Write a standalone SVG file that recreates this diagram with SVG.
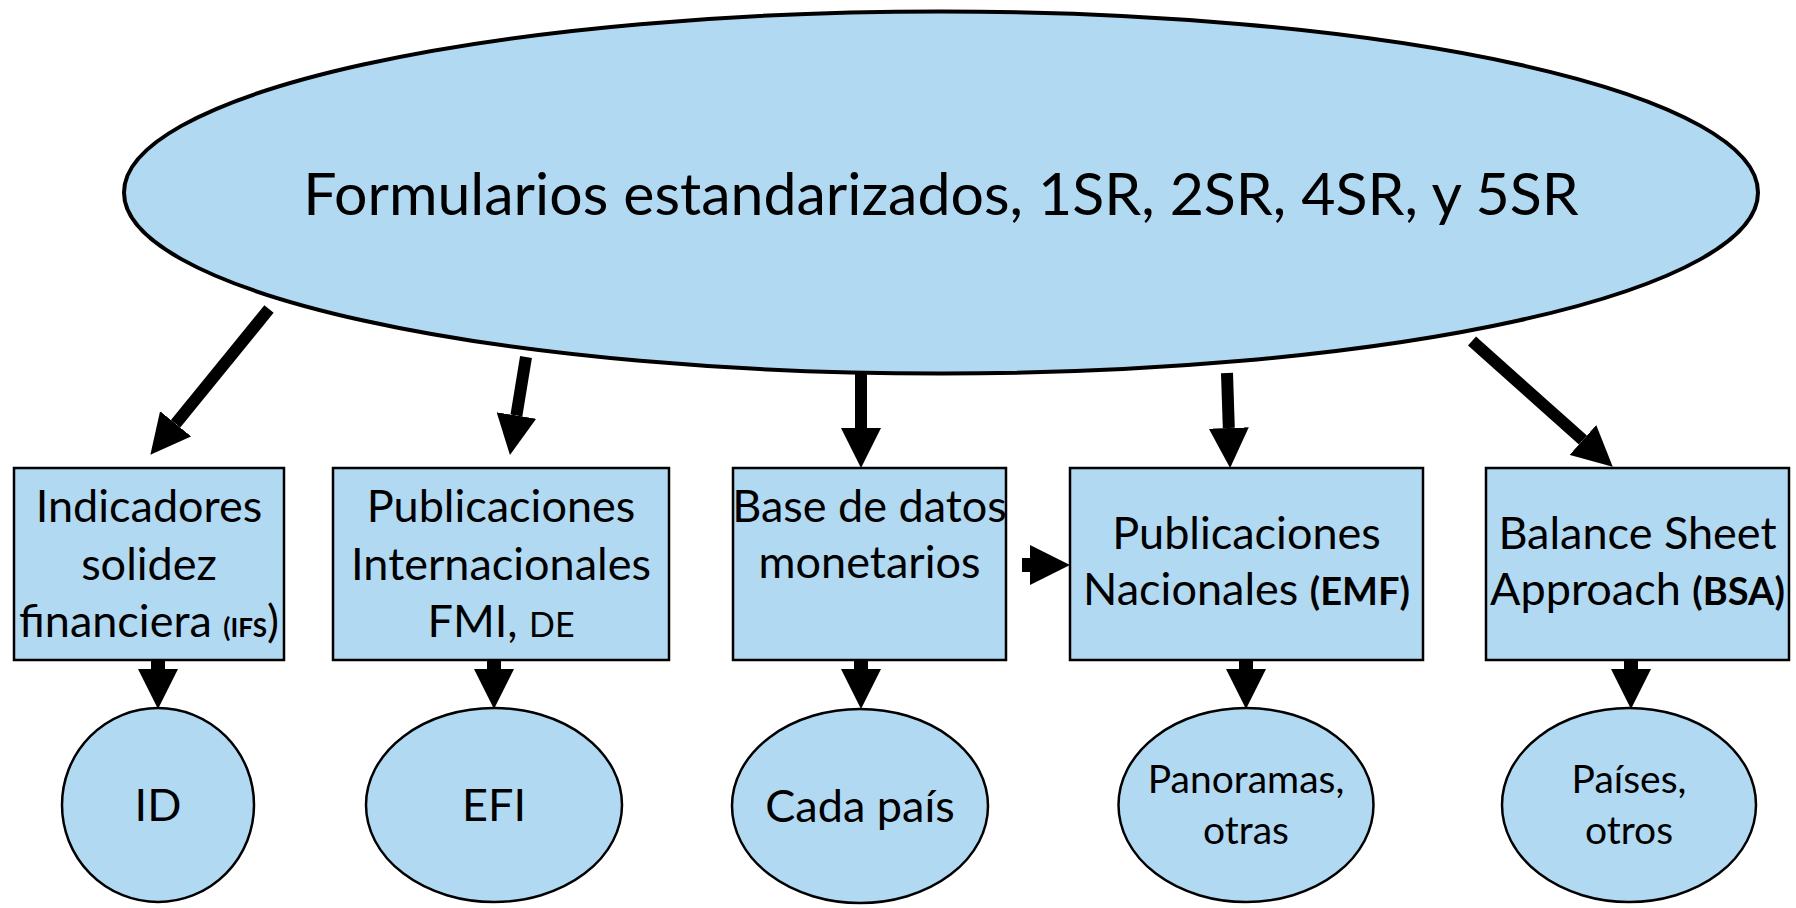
<svg xmlns="http://www.w3.org/2000/svg" width="1796" height="908" viewBox="0 0 1796 908">
<defs>
<style>
.shape{fill:#b2d9f2;stroke:#000;stroke-width:2.5}
.big{fill:#b2d9f2;stroke:#000;stroke-width:4}
text{font-family:Lato,"Open Sans","Liberation Sans",sans-serif;fill:#000;text-anchor:middle}
.t{font-size:45px}
.s{font-size:39px}
.b{font-weight:bold}
.conn{stroke:#000;stroke-width:12;fill:none}
.stub{stroke:#000;stroke-width:14;fill:none}
</style>
<marker id="ah" markerUnits="userSpaceOnUse" markerWidth="40" markerHeight="40" viewBox="0 0 40 40" refX="0" refY="20" orient="auto">
<path d="M0,0 L40,20 L0,40 z" fill="#000"/>
</marker>
</defs>
<rect width="1796" height="908" fill="#fff"/>

<g id="connectors">
<line class="conn" x1="269" y1="309" x2="175.6" y2="423.8" marker-end="url(#ah)"/>
<line class="conn" x1="526" y1="357" x2="516.4" y2="415.5" marker-end="url(#ah)"/>
<line class="conn" x1="861" y1="373" x2="861" y2="428" marker-end="url(#ah)"/>
<line class="conn" x1="1227" y1="373" x2="1228.8" y2="428" marker-end="url(#ah)"/>
<line class="conn" x1="1472" y1="341" x2="1582.9" y2="440" marker-end="url(#ah)"/>
<line class="stub" x1="1022" y1="565" x2="1030" y2="565" marker-end="url(#ah)"/>
<line class="stub" x1="158" y1="660" x2="158" y2="669" marker-end="url(#ah)"/>
<line class="stub" x1="494" y1="660" x2="494" y2="669" marker-end="url(#ah)"/>
<line class="stub" x1="861" y1="660" x2="861" y2="669" marker-end="url(#ah)"/>
<line class="stub" x1="1246" y1="660" x2="1246" y2="669" marker-end="url(#ah)"/>
<line class="stub" x1="1631" y1="660" x2="1631" y2="669" marker-end="url(#ah)"/>
</g>

<g id="top">
<ellipse class="big" cx="941" cy="192.5" rx="817" ry="181"/>
<text x="941" y="215" font-size="59">Formularios estandarizados, 1SR, 2SR, 4SR, y 5SR</text>
</g>

<g id="box-ifs">
<rect class="shape" x="14" y="468" width="270" height="192"/>
<text class="t" x="149" y="522">Indicadores</text>
<text class="t" x="149" y="580">solidez</text>
<text class="t" x="149" y="637">financiera <tspan class="b" font-size="26">(IFS</tspan>)</text>
</g>

<g id="box-pubint">
<rect class="shape" x="333" y="468" width="336" height="192"/>
<text class="t" x="501" y="522">Publicaciones</text>
<text class="t" x="501" y="580">Internacionales</text>
<text class="t" x="501" y="637">FMI, <tspan font-size="34">DE</tspan></text>
</g>

<g id="box-base">
<rect class="shape" x="733" y="468" width="273" height="192"/>
<text class="t" x="869.5" y="522">Base de datos</text>
<text class="t" x="869.5" y="578">monetarios</text>
</g>

<g id="box-pubnac">
<rect class="shape" x="1070" y="468" width="353" height="192"/>
<text class="t" x="1246.5" y="549">Publicaciones</text>
<text class="t" x="1246.5" y="605">Nacionales <tspan class="b" font-size="38">(EMF)</tspan></text>
</g>

<g id="box-bsa">
<rect class="shape" x="1486" y="468" width="303" height="192"/>
<text class="t" x="1637.5" y="549">Balance Sheet</text>
<text class="t" x="1637.5" y="605">Approach <tspan class="b" font-size="38">(BSA)</tspan></text>
</g>

<g id="ell-id">
<ellipse class="shape" cx="158" cy="805" rx="96" ry="97"/>
<text class="t" x="158" y="821">ID</text>
</g>

<g id="ell-efi">
<ellipse class="shape" cx="494" cy="805" rx="128" ry="97"/>
<text class="t" x="494" y="821">EFI</text>
</g>

<g id="ell-cada">
<ellipse class="shape" cx="860" cy="806" rx="128" ry="97"/>
<text class="t" x="860" y="822">Cada país</text>
</g>

<g id="ell-pan">
<ellipse class="shape" cx="1246" cy="805" rx="127.5" ry="97"/>
<text class="s" x="1246" y="793">Panoramas,</text>
<text class="s" x="1246" y="844">otras</text>
</g>

<g id="ell-paises">
<ellipse class="shape" cx="1629" cy="805" rx="127" ry="97"/>
<text class="s" x="1629" y="793">Países,</text>
<text class="s" x="1629" y="844">otros</text>
</g>
</svg>
